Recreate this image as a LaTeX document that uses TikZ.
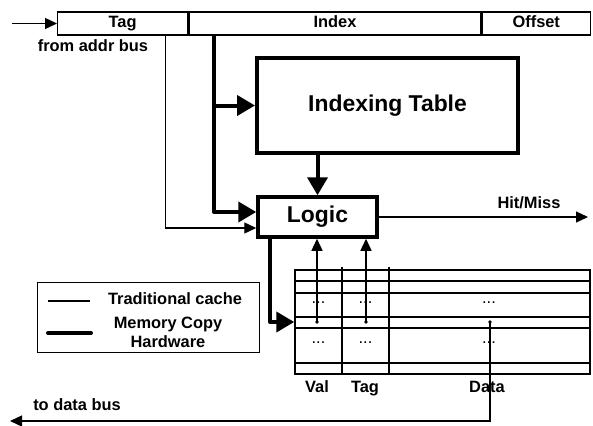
\documentclass[tikz,border=0pt]{standalone}
\usepackage{fontspec}
\setmainfont{Liberation Sans}
\usetikzlibrary{arrows.meta,positioning}

\begin{document}
\begin{tikzpicture}[x=1pt,y=-1pt,
  font=\bfseries\fontsize{16.4}{19}\selectfont,
  field/.style={draw,line width=1.3pt,minimum height=23pt,inner sep=0pt,anchor=west,text height=12pt,text depth=3.5pt},
  bigtext/.style={font=\bfseries\fontsize{22.9}{26}\selectfont},
  dots/.style={font=\mdseries\fontsize{16.4}{19}\selectfont},
  trad/.style={line width=1.3pt,-{Triangle[length=12pt,width=11pt]}},
  copyhw/.style={line width=4pt,line join=round,-{Triangle[length=18pt,width=20pt]}}]
  \useasboundingbox (0,0) rectangle (593,425);

  % address fields
  \node[field, minimum width=130pt] (tagf) at (57,23.5) {Tag};
  \node[field, minimum width=292pt, right=0pt of tagf] (idxf) {Index};
  \node[field, minimum width=108pt, right=0pt of idxf] (offf) {Offset};
  \node (from) at (93,46) {from addr bus};
  \coordinate (abus) at (12,23.5);

  \node[draw, line width=4pt, minimum width=261pt, minimum height=95pt, bigtext] (itab) at (387.5,105.5) {Indexing Table};
  \node[draw, line width=3.5pt, minimum width=119pt, minimum height=40pt, bigtext] (logic) at (317.5,217) {Logic};
  \coordinate (hm) at (588,217);
  \node (hmtxt) at (529,203) {Hit/Miss};

  % cache array
  \node[draw, line width=1.5pt, minimum width=295pt, minimum height=104pt, inner sep=0pt] (grid) at (442.5,322) {};
  \foreach \y in {281,293,317,328,363}
    \draw[line width=1.3pt] (295,\y) -- (590,\y);
  \foreach \x in {342,389}
    \draw[line width=1.3pt] (\x,267) -- (\x,374);
  \foreach \y in {303,343}{
    \node[dots] (dv\y) at (318.5,\y) {...};
    \node[dots] (dt\y) at (365.5,\y) {...};
    \node[dots] (dd\y) at (489,\y) {...};
  }
  \coordinate (vdot) at (317,322);
  \coordinate (tdot) at (366,322);
  \coordinate (ddot) at (490,322);
  \foreach \c in {vdot,tdot,ddot}
    \fill (\c) circle (1.8);
  \node[anchor=base] (valtxt) at (317,392) {Val};
  \node[anchor=base] (tagtxt) at (365,392) {Tag};
  \node[anchor=base] (datatxt) at (487,392) {Data};
  \coordinate (dbus) at (10,421);
  \node (to) at (77,405) {to data bus};

  % legend
  \node[draw, line width=1pt, minimum width=222pt, minimum height=70pt] (legend) at (148,317) {};
  \draw[line width=1.3pt] (48,301) -- (90,301);
  \draw[line width=4pt, line cap=round] (48,333) -- (91,333);
  \node (tradtxt) at (175,299) {Traditional cache};
  \node[align=center] (hwtxt) at (168,332) {Memory Copy\\Hardware};

  % connectors
  \draw[trad] (abus) -- (tagf.west);
  \draw[trad] ([xshift=43pt]tagf.south) |- ([yshift=-11pt]logic.west);
  \draw[copyhw] ([xshift=-121pt]idxf.south) |- (itab.west);
  \draw[copyhw] ([xshift=-121pt]idxf.south) |- ([yshift=5pt]logic.west);
  \draw[copyhw] (logic.north |- itab.south) -- (logic.north);
  \draw[trad] (logic.east) -- (hm);
  \draw[trad] (vdot) -- (vdot |- logic.south);
  \draw[trad] (tdot) -- (tdot |- logic.south);
  \draw[copyhw] ([xshift=-47.5pt]logic.south) |- (grid.west |- vdot);
  \draw[trad] (ddot) |- (dbus);
\end{tikzpicture}
\end{document}
